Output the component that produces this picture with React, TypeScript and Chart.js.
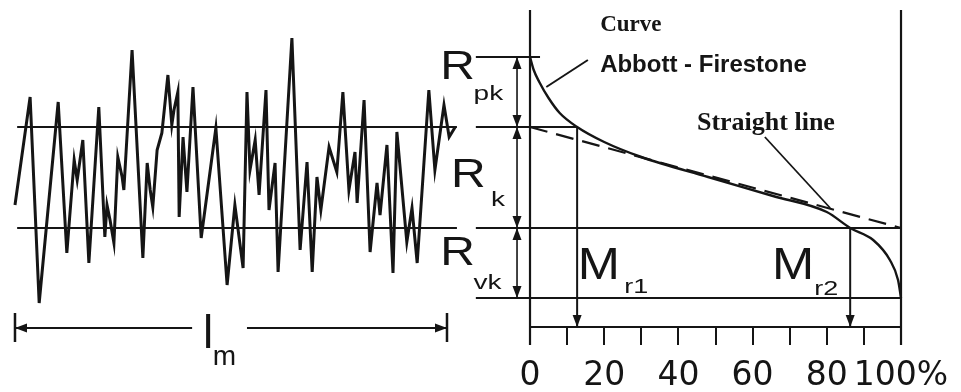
import React, { useEffect, useRef } from 'react';
import { Chart, registerables } from 'chart.js';

Chart.register(...registerables);

// ---- Roughness profile over the evaluation length l_m (x in % of l_m, y in µm) ----
const PROFILE_X = [0, 3.5, 5.6, 10.0, 12.0, 13.7, 14.4, 15.7, 17.1, 19.4, 20.8, 21.3, 22.0, 22.9, 23.8, 24.8, 25.2, 27.1, 29.6, 30.6, 31.3, 31.9, 32.9, 34.0, 35.4, 36.3, 36.8, 37.7, 38.0, 38.9, 39.8, 41.2, 43.1, 46.5, 49.1, 50.9, 52.8, 53.7, 54.4, 55.6, 56.5, 58.1, 58.8, 60.2, 60.9, 64.1, 66.0, 67.6, 68.8, 69.9, 70.8, 72.7, 74.5, 75.9, 77.3, 78.7, 79.2, 80.8, 82.2, 83.8, 84.5, 86.1, 87.5, 88.4, 90.7, 91.9, 93.1, 95.8, 97.2, 99.3, 100.5, 101.9];
const PROFILE_Y = [9.3, 20.1, -0.5, 19.6, 4.5, 13.8, 11.8, 15.8, 3.5, 19.1, 6.1, 9.3, 7.8, 5.5, 14.1, 12.1, 10.8, 24.8, 4.0, 13.5, 10.8, 9.1, 14.8, 16.5, 22.3, 17.3, 18.8, 20.6, 8.1, 16.1, 10.6, 21.1, 6.0, 17.0, 1.3, 9.3, 3.0, 20.6, 12.8, 15.8, 10.3, 20.8, 8.8, 13.5, 2.6, 26.0, 4.8, 13.6, 2.6, 12.1, 8.8, 15.1, 12.6, 20.6, 10.8, 14.6, 9.5, 19.8, 4.6, 11.5, 8.3, 15.3, 2.5, 16.6, 5.6, 9.0, 3.5, 20.8, 12.8, 19.3, 16.1, 17.1];

// ---- Abbott-Firestone (bearing) curve: material ratio % vs height µm ----
const CURVE_PCT = [0, 1, 2.5, 5, 8, 12.7, 20, 30, 48, 65.5, 80, 86.3, 92.5, 97.0, 99.2, 100];
const CURVE_H = [24.1, 22.8, 21.6, 20.0, 18.5, 17.1, 15.6, 14.1, 12.1, 10.2, 8.6, 7.0, 5.8, 3.8, 1.8, 0];

// ---- Characteristic levels (µm) and material ratios (%) ----
const LEVEL_RVK_BASE = 0;
const LEVEL_RK_LOW = 7.0;
const LEVEL_RK_HIGH = 17.1;
const LEVEL_RPK_TOP = 24.1;
const MR1 = 12.7;
const MR2 = 86.3;

// ---- Axis ticks ----
const PCT_TICKS = [0, 10, 20, 30, 40, 50, 60, 70, 80, 90, 100];
const PCT_LABELS = ['0', '', '20', '', '40', '', '60', '', '80', '', '100%'];

// ---- Scale ranges ----
const PCT_MIN = -142.86;
const PCT_MAX = 116.17;
const LEN_MIN = -3.47;
const LEN_MAX = 218.98;
const H_MIN = -2.9;
const H_MAX = 29.8;

// annotation anchors (data units)
const DIM_X = -3.5; // dimension line for Rpk / Rk / Rvk
const REF_LEFT = -14.6; // left end of reference lines on the bearing chart
const AXIS_TOP = 28.8;
const AXIS_BOTTOM = -4.7;
const LM_Y = -3.0;

const INK = '#151515';
const SANS = '"Liberation Sans", Arial, sans-serif';
const SERIF = '"Liberation Serif", "Times New Roman", serif';

function seg(points: Array<[number, number]>, xAxisID: string, width = 2, dash: number[] = []) {
  return {
    type: 'line' as const,
    data: points.map(([x, y]) => ({ x, y })),
    xAxisID,
    yAxisID: 'y',
    borderColor: INK,
    borderWidth: width,
    borderDash: dash,
    pointRadius: 0,
    fill: false,
    tension: 0,
    clip: false as any,
  };
}

type Lbl = { t: string; ax: string; x: number; y: number; font: string; sx?: number };
const LABELS: Lbl[] = [
  { t: 'Curve', ax: 'x', x: 18.9, y: 26.7, font: `bold 23px ${SERIF}` },
  { t: 'Abbott - Firestone', ax: 'x', x: 18.9, y: 22.6, font: `bold 24px ${SANS}` },
  { t: 'Straight line', ax: 'x', x: 45.0, y: 16.8, font: `bold 26px ${SERIF}` },
  { t: 'R', ax: 'x', x: -24.2, y: 21.9, font: `40px ${SANS}`, sx: 1.2 },
  { t: 'pk', ax: 'x', x: -15.2, y: 19.8, font: `20px ${SANS}`, sx: 1.4 },
  { t: 'R', ax: 'x', x: -21.3, y: 11.1, font: `40px ${SANS}`, sx: 1.2 },
  { t: 'k', ax: 'x', x: -10.5, y: 9.2, font: `20px ${SANS}`, sx: 1.4 },
  { t: 'R', ax: 'x', x: -24.2, y: 3.3, font: `40px ${SANS}`, sx: 1.2 },
  { t: 'vk', ax: 'x', x: -15.2, y: 0.9, font: `20px ${SANS}`, sx: 1.4 },
  { t: 'M', ax: 'x', x: 12.9, y: 1.9, font: `44px ${SANS}`, sx: 1.15 },
  { t: 'r1', ax: 'x', x: 25.4, y: 0.5, font: `20px ${SANS}`, sx: 1.35 },
  { t: 'M', ax: 'x', x: 65.2, y: 1.9, font: `44px ${SANS}`, sx: 1.15 },
  { t: 'r2', ax: 'x', x: 76.6, y: 0.3, font: `20px ${SANS}`, sx: 1.35 },
  { t: 'l', ax: 'xl', x: 43.5, y: -5.0, font: `46px ${SANS}` },
  { t: 'm', ax: 'xl', x: 45.8, y: -6.7, font: `28px ${SANS}` },
];

type Arw = { ax: string; x: number; y: number; dir: 'up' | 'down' | 'left' | 'right' };
const ARROWS: Arw[] = [
  { ax: 'x', x: DIM_X, y: LEVEL_RPK_TOP, dir: 'up' },
  { ax: 'x', x: DIM_X, y: LEVEL_RK_HIGH, dir: 'down' },
  { ax: 'x', x: DIM_X, y: LEVEL_RK_HIGH, dir: 'up' },
  { ax: 'x', x: DIM_X, y: LEVEL_RK_LOW, dir: 'down' },
  { ax: 'x', x: DIM_X, y: LEVEL_RK_LOW, dir: 'up' },
  { ax: 'x', x: DIM_X, y: LEVEL_RVK_BASE, dir: 'down' },
  { ax: 'x', x: MR1, y: H_MIN, dir: 'down' },
  { ax: 'x', x: MR2, y: H_MIN, dir: 'down' },
  { ax: 'xl', x: 0, y: LM_Y, dir: 'left' },
  { ax: 'xl', x: 100, y: LM_Y, dir: 'right' },
];

const annotPlugin = {
  id: 'annot',
  afterDatasetsDraw(chart: any) {
    const ctx = chart.ctx as CanvasRenderingContext2D;
    const ys = chart.scales.y;
    ctx.save();
    ctx.fillStyle = INK;
    // arrowheads
    for (const a of ARROWS) {
      const px = chart.scales[a.ax].getPixelForValue(a.x);
      const py = ys.getPixelForValue(a.y);
      const L = 12, H = 4.5;
      ctx.beginPath();
      ctx.moveTo(px, py);
      if (a.dir === 'up') { ctx.lineTo(px - H, py + L); ctx.lineTo(px + H, py + L); }
      if (a.dir === 'down') { ctx.lineTo(px - H, py - L); ctx.lineTo(px + H, py - L); }
      if (a.dir === 'left') { ctx.lineTo(px + L, py - H); ctx.lineTo(px + L, py + H); }
      if (a.dir === 'right') { ctx.lineTo(px - L, py - H); ctx.lineTo(px - L, py + H); }
      ctx.closePath();
      ctx.fill();
    }
    // text
    ctx.textAlign = 'left';
    ctx.textBaseline = 'alphabetic';
    for (const l of LABELS) {
      ctx.save();
      ctx.font = l.font;
      ctx.translate(chart.scales[l.ax].getPixelForValue(l.x), ys.getPixelForValue(l.y));
      ctx.scale(l.sx ?? 1, 1);
      ctx.fillText(l.t, 0, 0);
      ctx.restore();
    }
    ctx.restore();
  },
};

export default function App() {
  const ref = useRef<HTMLCanvasElement>(null);
  useEffect(() => {
    const profile = PROFILE_X.map((x, i) => [x, PROFILE_Y[i]] as [number, number]);
    const curve = CURVE_PCT.map((x, i) => ({ x, y: CURVE_H[i] }));
    const datasets: any[] = [
      // left profile and its reference lines
      seg(profile, 'xl', 3),
      seg([[0.5, LEVEL_RK_HIGH], [102.3, LEVEL_RK_HIGH]], 'xl', 2),
      seg([[0.5, LEVEL_RK_LOW], [102.3, LEVEL_RK_LOW]], 'xl', 2),
      // l_m dimension
      seg([[0, LM_Y], [41, LM_Y]], 'xl', 2),
      seg([[53.7, LM_Y], [100, LM_Y]], 'xl', 2),
      seg([[0, -1.5], [0, -4.4]], 'xl', 2.5),
      seg([[100, -1.5], [100, -4.4]], 'xl', 2.5),
      // bearing chart frame
      seg([[0, AXIS_TOP], [0, AXIS_BOTTOM]], 'x', 2.2),
      seg([[100, AXIS_TOP], [100, AXIS_BOTTOM]], 'x', 2.2),
      seg([[0, H_MIN], [100, H_MIN]], 'x', 2),
      // reference levels
      seg([[REF_LEFT, LEVEL_RPK_TOP], [2.7, LEVEL_RPK_TOP]], 'x', 2),
      seg([[REF_LEFT, LEVEL_RK_HIGH], [MR1, LEVEL_RK_HIGH]], 'x', 2),
      seg([[REF_LEFT, LEVEL_RK_LOW], [100, LEVEL_RK_LOW]], 'x', 2),
      seg([[REF_LEFT, LEVEL_RVK_BASE], [100, LEVEL_RVK_BASE]], 'x', 2),
      // dimension line
      seg([[DIM_X, LEVEL_RPK_TOP], [DIM_X, LEVEL_RVK_BASE]], 'x', 1.6),
      // Mr verticals
      seg([[MR1, LEVEL_RK_HIGH], [MR1, H_MIN]], 'x', 2),
      seg([[MR2, LEVEL_RK_LOW], [MR2, H_MIN]], 'x', 2),
      // equivalent straight line (dashed)
      seg([[0, LEVEL_RK_HIGH], [100, LEVEL_RK_LOW]], 'x', 2.2, [18, 9]),
      // leaders
      seg([[15.6, 23.8], [4.4, 21.1]], 'x', 2),
      seg([[63.3, 16.1], [80.9, 9.0]], 'x', 1.8),
      // Abbott-Firestone curve
      {
        type: 'line',
        data: curve,
        xAxisID: 'x',
        yAxisID: 'y',
        borderColor: INK,
        borderWidth: 2.4,
        pointRadius: 0,
        fill: false,
        cubicInterpolationMode: 'monotone',
        clip: false,
      },
    ];
    const chart = new Chart(ref.current as HTMLCanvasElement, {
      type: 'line',
      data: { datasets },
      options: {
        animation: false,
        responsive: false,
        parsing: false as any,
        normalized: true,
        layout: { padding: 0 },
        plugins: { legend: { display: false }, tooltip: { enabled: false } },
        scales: {
          x: {
            type: 'linear',
            position: 'bottom',
            min: PCT_MIN,
            max: PCT_MAX,
            afterBuildTicks: (s: any) => { s.ticks = PCT_TICKS.map((v) => ({ value: v })); },
            afterFit: (s: any) => { s.height = 65; },
            ticks: {
              autoSkip: false,
              maxRotation: 0,
              minRotation: 0,
              padding: 12,
              color: INK,
              font: { family: '"DejaVu Sans", sans-serif', size: 33 },
              callback: (_v: any, i: number) => PCT_LABELS[i],
            },
            grid: { drawOnChartArea: false, tickLength: 18, tickColor: INK, lineWidth: 2 },
            border: { display: false },
          },
          xl: { type: 'linear', display: false, min: LEN_MIN, max: LEN_MAX, position: 'bottom' },
          y: { type: 'linear', display: false, min: H_MIN, max: H_MAX },
        },
      } as any,
      plugins: [annotPlugin],
    });
    return () => chart.destroy();
  }, []);
  return (
    <div style={{ position: 'absolute', left: 0, top: 0, width: 961, height: 392, background: '#fff' }}>
      <canvas ref={ref} width={961} height={392} style={{ display: 'block' }} />
    </div>
  );
}
